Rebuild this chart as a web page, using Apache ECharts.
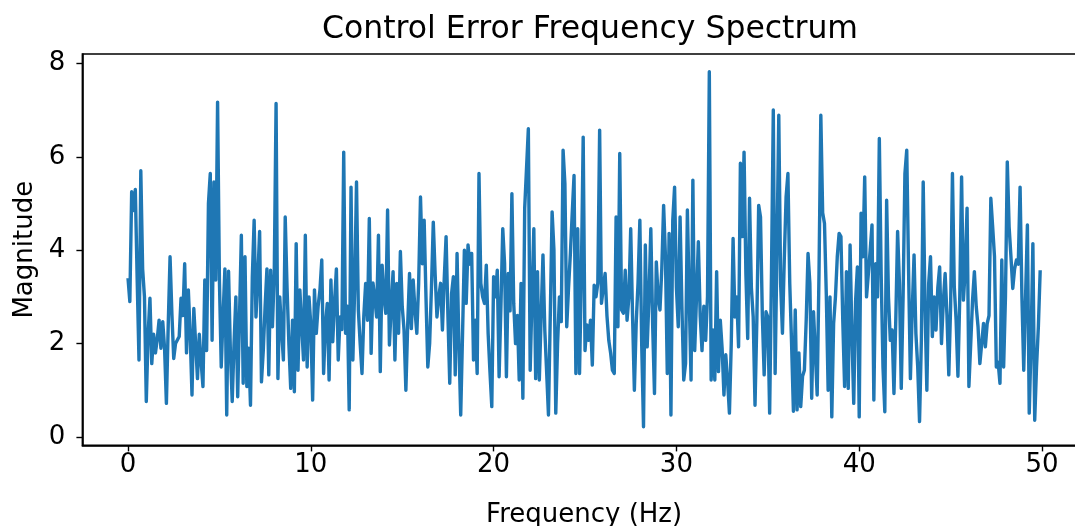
<!DOCTYPE html>
<html>
<head>
<meta charset="utf-8">
<script src="https://cdn.jsdelivr.net/npm/echarts@6/dist/echarts.min.js"></script>
<style>
html,body{margin:0;padding:0;background:#fff;}
#chart{width:1075px;height:526px;}
</style>
</head>
<body>
<div id="chart"></div>
<script>
// Frequency bin spacing (Hz) and magnitudes, 10 bins per Hz
var freqStep = 0.1;
var mag00to10 = [
  3.4, 2.9, 5.25, 4.85, 5.3, 3.4, 1.65, 5.7, 3.6, 3.0,
  0.76, 2.2, 2.97, 1.57, 2.2, 1.8, 2.1, 2.5, 1.9, 2.47,
  1.9, 0.72, 2.4, 3.86, 2.65, 1.68, 2.0, 2.0, 2.15, 2.97,
  2.6, 3.71, 1.8, 3.15, 2.2, 0.9, 2.75, 2.0, 1.25, 2.2,
  1.6, 1.08, 3.36, 1.85, 5.0, 5.64, 2.07, 5.46, 3.36, 7.17,
  3.36, 1.5, 2.6, 3.6, 0.47, 3.55, 1.83, 0.76, 2.0, 3.0,
  0.86, 2.6, 4.32, 1.15, 3.86, 1.08, 1.9, 0.68, 3.43, 4.64,
  2.57, 3.4, 4.4, 1.18, 1.85, 2.8, 3.6, 1.33, 3.57, 2.36,
  3.5, 7.14, 1.25, 3.0, 2.29, 1.65, 4.71, 3.2, 2.0, 1.04,
  2.5, 0.97, 4.14, 1.43, 3.15, 2.4, 1.65, 4.32, 1.5, 3.0
];
var mag10to20 = [
  2.4, 0.79, 3.15, 2.22, 2.8, 3.15, 3.79, 1.36, 2.4, 2.86,
  1.22, 3.36, 2.04, 2.9, 3.6, 1.65, 2.57, 2.3, 6.1, 2.22,
  2.8, 0.58, 5.35, 1.65, 3.2, 5.46, 2.72, 2.0, 1.36, 2.6,
  3.29, 2.5, 4.68, 1.79, 3.3, 2.97, 2.57, 4.32, 1.4, 3.68,
  3.0, 2.65, 4.86, 1.97, 2.8, 3.54, 1.65, 3.29, 2.22, 3.97,
  2.8, 2.29, 1.0, 2.4, 3.5, 2.32, 3.36, 2.7, 2.22, 3.3,
  5.14, 3.71, 4.64, 3.0, 1.5, 2.0, 3.2, 4.6, 3.5, 2.57,
  3.0, 3.29, 2.29, 3.4, 4.29, 2.6, 1.15, 3.07, 3.43, 1.33,
  3.93, 2.0, 0.47, 2.2, 4.0, 2.86, 4.11, 3.7, 3.93, 1.65,
  2.5, 1.36, 5.64, 3.29, 3.0, 2.86, 3.68, 2.22, 1.4, 0.65
];
var mag20to30 = [
  3.43, 3.0, 3.57, 1.29, 2.8, 4.46, 3.71, 1.29, 3.5, 2.7,
  5.21, 2.86, 2.0, 2.6, 1.22, 3.29, 0.83, 4.9, 4.93, 6.6,
  1.43, 3.0, 4.46, 1.25, 3.54, 1.22, 2.6, 3.9, 2.29, 1.4,
  0.47, 2.6, 4.82, 4.0, 0.51, 2.0, 3.0, 2.47, 6.14, 5.42,
  2.36, 3.2, 3.93, 4.79, 5.6, 1.36, 4.46, 1.36, 3.5, 6.42,
  1.85, 2.4, 2.07, 2.5, 1.54, 3.25, 3.0, 3.29, 6.57, 2.86,
  3.2, 3.5, 2.6, 2.07, 1.8, 1.43, 1.36, 4.71, 2.36, 6.07,
  2.72, 2.65, 3.57, 2.5, 3.0, 4.46, 2.6, 1.0, 2.43, 3.3,
  4.64, 2.0, 0.22, 4.11, 1.93, 3.0, 4.46, 2.4, 0.93, 3.75,
  3.0, 2.72, 3.6, 4.96, 3.86, 1.36, 4.36, 0.47, 4.64, 5.35
];
var mag30to40 = [
  3.2, 2.36, 4.71, 2.8, 1.22, 1.57, 4.86, 3.0, 1.22, 5.5,
  1.85, 3.0, 4.18, 2.6, 1.85, 2.8, 2.07, 3.0, 7.82, 1.22,
  2.29, 1.22, 3.54, 1.4, 2.5, 1.9, 0.9, 1.76, 1.2, 0.51,
  2.0, 4.25, 2.57, 3.0, 1.93, 5.86, 4.29, 6.1, 3.5, 2.11,
  5.11, 3.2, 2.57, 0.68, 2.5, 4.96, 4.71, 2.6, 1.33, 2.68,
  2.57, 0.51, 3.5, 7.0, 1.36, 4.0, 6.89, 3.29, 2.22, 3.8,
  5.14, 5.64, 3.29, 2.0, 0.55, 2.72, 0.58, 1.8, 0.65, 1.3,
  1.43, 2.5, 3.93, 3.29, 0.83, 2.68, 1.8, 0.9, 3.5, 6.89,
  4.8, 4.57, 3.04, 1.0, 3.0, 0.43, 2.43, 3.0, 3.86, 4.36,
  4.29, 2.5, 1.08, 3.54, 1.04, 4.11, 2.2, 0.72, 2.9, 3.64
];
var mag40to50 = [
  0.43, 4.79, 3.86, 5.57, 3.0, 3.5, 4.0, 4.54, 0.79, 3.71,
  3.0, 6.39, 3.5, 1.5, 0.54, 5.07, 3.0, 2.07, 2.29, 0.93,
  2.5, 4.4, 3.29, 1.04, 3.0, 5.64, 6.14, 3.57, 1.25, 2.7,
  3.9, 2.22, 1.5, 0.33, 2.07, 5.46, 2.8, 1.0, 3.29, 3.86,
  2.15, 3.0, 2.29, 3.2, 3.64, 2.0, 2.9, 3.5, 2.6, 1.33,
  2.8, 5.64, 3.22, 2.5, 1.3, 3.0, 5.57, 2.93, 3.6, 4.9,
  1.08, 2.0, 2.93, 3.54, 2.8, 2.36, 1.57, 2.0, 2.43, 1.93,
  2.43, 2.6, 5.11, 4.5, 3.86, 1.5, 1.6, 1.15, 3.79, 1.5,
  3.0, 5.89, 4.5, 3.86, 3.18, 3.6, 3.79, 3.7, 5.35, 3.0,
  1.43, 3.0, 4.54, 0.51, 2.0, 4.14, 0.36, 1.5, 2.36, 3.57
];
var xTicks = [0, 10, 20, 30, 40, 50];
var yTicks = [0, 2, 4, 6, 8];
var titleText = 'Control Error Frequency Spectrum';
var xName = 'Frequency (Hz)';
var yName = 'Magnitude';

var magnitudes = [].concat(mag00to10, mag10to20, mag20to30, mag30to40, mag40to50);
var seriesData = magnitudes.map(function (v, i) {
  return [Number((i * freqStep).toFixed(1)), v];
});

var FONT = '"DejaVu Sans", sans-serif';
var chart = echarts.init(document.getElementById('chart'), null, { renderer: 'canvas' });
chart.setOption({
  animation: false,
  backgroundColor: '#ffffff',
  title: {
    text: titleText,
    left: 585, top: 9, textAlign: 'center',
    textStyle: { fontFamily: FONT, fontSize: 31.5, fontWeight: 'normal', color: '#000' }
  },
  grid: {
    left: 82.4, top: 54, right: -10.8, bottom: 80.6,
    outerBoundsMode: 'none', containLabel: false,
    show: true, borderColor: '#000', borderWidth: 1.6, backgroundColor: '#fff'
  },
  xAxis: {
    type: 'value', min: -2.495, max: 52.395,
    name: xName, nameLocation: 'middle', nameGap: 57,
    nameTextStyle: { fontFamily: FONT, fontSize: 26, color: '#000' },
    axisLine: { show: true, onZero: false, lineStyle: { color: '#000', width: 1.6 } },
    axisTick: { show: true, length: 6, customValues: xTicks, lineStyle: { color: '#000', width: 1.4 } },
    axisLabel: { customValues: xTicks, margin: 7, fontFamily: FONT, fontSize: 26, color: '#000' },
    splitLine: { show: false }
  },
  yAxis: {
    type: 'value', min: -0.18, max: 8.2,
    name: yName, nameLocation: 'middle', nameGap: 44, nameRotate: 90,
    nameTextStyle: { fontFamily: FONT, fontSize: 26, color: '#000' },
    axisLine: { show: true, onZero: false, lineStyle: { color: '#000', width: 1.6 } },
    axisTick: { show: true, length: 6, customValues: yTicks, lineStyle: { color: '#000', width: 1.4 } },
    axisLabel: { customValues: yTicks, margin: 17, fontFamily: FONT, fontSize: 26, color: '#000' },
    splitLine: { show: false }
  },
  series: [{
    type: 'line',
    data: seriesData,
    showSymbol: false,
    symbol: 'none',
    lineStyle: { color: '#1f77b4', width: 3.4, join: 'round' },
    clip: true
  }]
});
</script>
</body>
</html>
